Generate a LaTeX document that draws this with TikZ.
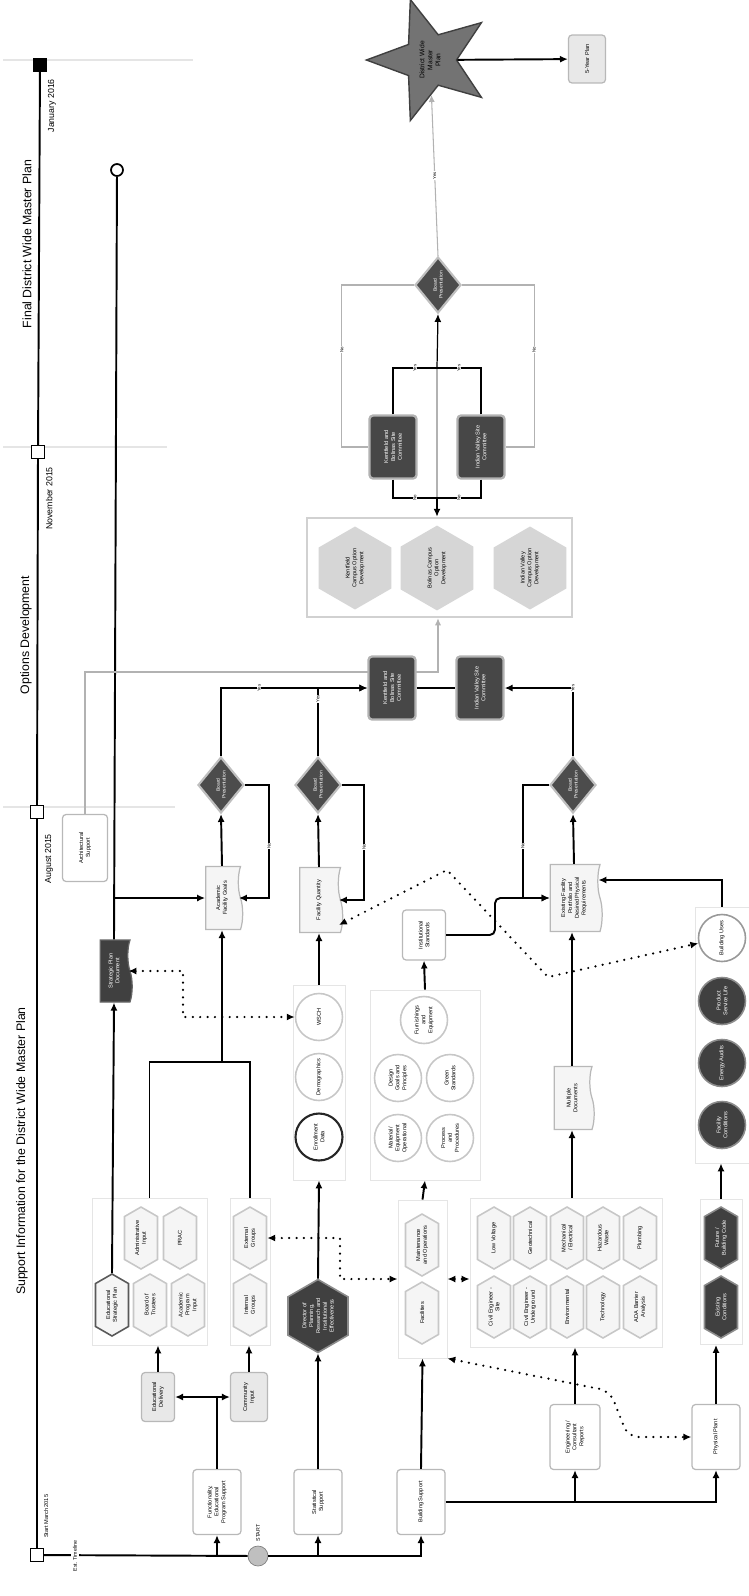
\documentclass[tikz,border=0pt]{standalone}
\usepackage{fontspec}
\setmainfont{Liberation Sans}
\usetikzlibrary{arrows.meta, shapes.geometric, shapes.symbols}

\begin{document}
\begin{tikzpicture}[
    x=0.02cm, y=-0.02cm,
    every node/.style={rotate=90, align=center, inner sep=0.5pt, font=\fontsize{3.2}{3.9}\selectfont},
    box/.style={draw=black!28, line width=0.7pt, rounded corners=2pt, fill=white, minimum width=1.3cm, minimum height=0.96cm},
    gbox/.style={box, fill=black!9},
    dbox/.style={box, fill=black!72, draw=black!30, line width=1.3pt, text=white, minimum width=1.26cm, minimum height=0.94cm},
    hexa/.style={signal, signal to=east and west, signal pointer angle=120, draw=black!22, line width=0.9pt, fill=black!4, minimum width=1.24cm, minimum height=0.66cm},
    dhexa/.style={hexa, fill=black!75, draw=black!45, text=white},
    hexo/.style={hexa, fill=black!16, draw=none, minimum width=1.6cm, minimum height=1.46cm},
    bubble/.style={circle, draw=black!22, line width=0.9pt, fill=white, minimum size=0.94cm, inner sep=0pt},
    dbubble/.style={bubble, fill=black!75, draw=black!45, text=white},
    doc/.style={tape, tape bend top=none, tape bend height=2.5pt, draw=black!28, line width=0.7pt, fill=black!4},
    decision/.style={diamond, fill=black!70, draw=black!25, line width=1.2pt, text=white, minimum width=1.12cm, minimum height=0.92cm, inner sep=0pt, font=\fontsize{2.8}{3.3}\selectfont},
    grp/.style={draw=black!10, line width=0.5pt},
    ms/.style={draw, line width=0.8pt, fill=white, minimum size=0.26cm, inner sep=0pt},
    title/.style={font=\fontsize{7}{8}\selectfont},
    date/.style={font=\fontsize{5}{6}\selectfont, inner sep=1pt},
    lab/.style={fill=white, inner sep=0.3pt, font=\fontsize{2.5}{3}\selectfont},
    link/.style={line width=1.1pt},
    arrow/.style={link, -{Latex[length=4.5pt, width=4pt]}},
    gline/.style={draw=black!30, line width=0.6pt},
    garrow/.style={gline, -{Latex[length=4pt, width=3.5pt]}},
    dots/.style={line width=1.4pt, line cap=round, dash pattern=on 0pt off 4.2pt, {Latex[length=4.5pt, width=4pt]}-{Latex[length=4.5pt, width=4pt]}}
]
\useasboundingbox (0,0) rectangle (749,1596);

% timeline
\draw[black!10, line width=0.6pt] (3,60) -- (193,60);
\draw[black!10, line width=0.6pt] (3,447) -- (167,447);
\draw[black!10, line width=0.6pt] (3,807) -- (175,807);
\node[ms] (tstart) at (37,1555) {};
\node[ms] (taug) at (37,812) {};
\node[ms] (tnov) at (38,452) {};
\node[ms, fill=black] (tjan) at (40,65) {};
\draw[link] (tstart) -- (taug) -- (tnov) -- (tjan);
\node[date, anchor=north west, font=\fontsize{3.2}{4}\selectfont] at (42,1540) {Start March 2015};
\node[date, anchor=north east] at (43,832) {August 2015};
\node[date, anchor=north east] at (44,465) {November 2015};
\node[date, anchor=north east] at (46,77) {January 2016};
\node[title] at (22,1151) {Support Information for the District Wide Master Plan};
\node[title] at (26,635) {Options Development};
\node[title] at (27,244) {Final District Wide Master Plan};

\node[circle, draw=black!50, fill=black!25, minimum size=0.4cm, inner sep=0pt] (start) at (258,1556) {};
\node[font=\fontsize{3}{3.5}\selectfont] at (258,1533) {START};
\draw[link] (tstart) -- (start);
\node[fill=white, font=\fontsize{3}{3.5}\selectfont, inner sep=1pt] at (75,1556) {Est. Timeline};

\node[box] (func) at (217,1502) {Functionality,\\ Educational\\ Program Support};
\node[box] (stat) at (318,1502) {Statistical\\ Support};
\node[box] (bsup) at (421,1502) {Building Support};
\node[box, minimum height=1.0cm] (eng) at (575,1437) {Engineering /\\ Consultant\\ Reports};
\node[box] (pplant) at (716,1437) {Physical Plant};
\draw[arrow] (tstart -| func) -- (func.west);
\draw[arrow] (start) -| (bsup.west);
\draw[arrow] (start -| stat) -- (stat.west);
\draw[arrow] (bsup.south) -| (pplant.west);
\draw[arrow] (bsup.south -| eng) -- (eng.west);

% educational stream
\node[gbox, minimum width=0.98cm, minimum height=0.66cm] (edu) at (158,1397) {Educational\\ Delivery};
\node[gbox, minimum width=0.98cm, minimum height=0.74cm] (comm) at (249,1397) {Community\\ Input};
\draw[arrow] (func.east) -- (func.east |- edu) -- (edu.south);
\draw[arrow] (func.east |- comm) -- (comm.north);

\node[grp, minimum width=2.94cm, minimum height=2.3cm] (g1) at (149.5,1271.5) {};
\node[grp, minimum width=2.94cm, minimum height=0.8cm] (g2) at (250,1271.5) {};
\node[hexa, draw=black!65] (esp) at (112,1305) {Educational\\ Strategic Plan};
\node[hexa] (bot) at (150,1305) {Board of\\ Trustees};
\node[hexa] (api) at (188,1305) {Academic\\ Program\\ Input};
\node[hexa] (adm) at (141,1238) {Administrative\\ Input};
\node[hexa] (prac) at (180,1238) {PRAC};
\node[hexa] (intg) at (250,1305) {Internal\\ Groups};
\node[hexa] (extg) at (250,1238) {External\\ Groups};
\draw[arrow] (edu.east) -- (edu.east |- g1.west);
\draw[arrow] (comm.east) -- (comm.east |- g2.west);

\node[doc, fill=black!75, draw=black!60, text=white, minimum width=1.24cm, minimum height=0.64cm] (sdoc) at (114,971) {Strategic Plan\\ Document};
\node[circle, draw, line width=1pt, fill=white, minimum size=0.24cm, inner sep=0pt] (endc) at (117,170) {};
\draw[arrow] (esp.east) -- (sdoc.west);
\draw[link] (sdoc.east) -- (endc);

\node[doc, minimum width=1.26cm, minimum height=0.74cm] (acad) at (222,898) {Academic\\ Facility Goals};
\draw[arrow] (sdoc.east |- acad) -- (acad.north);
\coordinate (gj) at (222,1062);
\draw[link] (g1.east) |- (gj) -| (g2.east);
\draw[arrow] (gj) -- (acad.west);

\node[box, minimum width=1.34cm, minimum height=0.9cm] (arch) at (85,848) {Architectural\\ Support};

% statistical stream
\node[dhexa, minimum width=1.46cm, minimum height=1.2cm] (dir) at (318,1316) {Director of\\ Planning,\\ Research and\\ Institutional\\ Effectiveness};
\draw[arrow] (stat.east) -- (dir.west);
\node[grp, minimum width=3.9cm, minimum height=1.04cm] (cg) at (319,1082.5) {};
\node[bubble, draw=black!85, line width=1.2pt] (enr) at (319,1137) {Enrollment\\ Data};
\node[bubble] (dem) at (319,1077) {Demographics};
\node[bubble] (wsch) at (319,1017) {WSCH};
\draw[arrow] (dir.east) -- (cg.west);
\node[doc, minimum width=1.3cm, minimum height=0.86cm] (fqty) at (319,900) {Facility Quantity};
\draw[arrow] (cg.east) -- (fqty.west);
\coordinate (sj) at (183,1017);
\draw[dots] (sdoc.south) -| (sj) -- (wsch.north);

% building stream
\node[grp, minimum width=3.16cm, minimum height=0.98cm] (fg) at (422.5,1279) {};
\node[hexa] (fac) at (422,1313) {Facilities};
\node[hexa] (mo) at (422,1245) {Maintenance\\ and Operations};
\draw[arrow] (bsup.east) -- (fg.west);
\coordinate (dj) at (340,1279);
\draw[dots] (extg.south) -| (dj) -- (fg.north);

\node[grp, minimum width=3.8cm, minimum height=2.2cm] (mg) at (425,1085) {};
\node[bubble] (mat) at (398,1138) {Material/\\ Equipment\\ Operational};
\node[bubble] (proc) at (450,1138) {Process\\ and\\ Procedures};
\node[bubble] (des) at (398,1078) {Design\\ Goals and\\ Principles};
\node[bubble] (green) at (450,1078) {Green\\ Standards};
\node[bubble] (furn) at (424,1020) {Furnishings\\ and\\ Equipment};
\draw[arrow] (fg.east) -- (mg.west);
\node[box, minimum width=1.0cm, minimum height=0.86cm] (inst) at (424,935) {Institutional\\ Standards};
\draw[arrow] (mg.east) -- (inst.west);

\node[grp, minimum width=2.98cm, minimum height=3.84cm] (cgrp) at (566,1272.5) {};
\node[hexa] (lv) at (494,1238) {Low Voltage};
\node[hexa] (geo) at (530,1238) {Geotechnical};
\node[hexa] (mech) at (567,1238) {Mechanical\\ / Electrical};
\node[hexa] (haz) at (603,1238) {Hazardous\\ Waste};
\node[hexa] (plumb) at (640,1238) {Plumbing};
\node[hexa] (ces) at (494,1307) {Civil Engineer -\\ Site};
\node[hexa] (ceu) at (530,1307) {Civil Engineer -\\ Underground};
\node[hexa] (env) at (567,1307) {Environmental};
\node[hexa] (tech) at (603,1307) {Technology};
\node[hexa] (ada) at (640,1307) {ADA Barrier\\ Analysis};
\draw[dots] (fg.south) -- (fg.south -| cgrp.north);
\draw[arrow] (eng.east) -- (eng.east |- cgrp.west);
\node[doc, minimum width=1.26cm, minimum height=0.8cm] (mdoc) at (572,1098) {Multiple\\ Documents};
\draw[arrow] (mdoc |- cgrp.east) -- (mdoc.west);
\node[doc, minimum width=1.34cm, minimum height=1.04cm] (exist) at (574,898) {Existing Facility\\ Portfolio and\\ Desired Physical\\ Requirements};
\draw[arrow] (mdoc.east) -- (mdoc.east |- exist.west);
\coordinate (ej) at (495,898);
\draw[arrow, rounded corners=3pt] (inst.south) -| (ej) -- (exist.north);

\node[grp, minimum width=2.9cm, minimum height=0.84cm] (dhg) at (721,1272) {};
\node[dhexa] (exc) at (721,1307) {Existing\\ Conditions};
\node[dhexa] (fbc) at (721,1238) {Future /\\ Building Code};
\draw[arrow] (pplant.east) -- (pplant.east |- dhg.west);
\node[grp, minimum width=5.12cm, minimum height=1.08cm] (dcg) at (722,1035) {};
\node[dbubble] (fcon) at (722,1125) {Facility\\ Conditions};
\node[dbubble] (ea) at (722,1063) {Energy Audits};
\node[dbubble] (psl) at (722,1001) {Product\\ Service Life};
\node[bubble, draw=black!40] (bu) at (722,938) {Building Uses};
\draw[arrow] (dhg.east) -- (dhg.east |- dcg.west);
\draw[arrow] (dcg.east) |- ([yshift=0.36cm]exist.south);
\draw[dots] ([yshift=-0.5cm]fqty.south) -- (447,870) -- (548,977) -- (bu);
\draw[dots, rounded corners=6pt] (fg.south west) -- (610,1391) -- (628,1437) -- (pplant.north);

% board presentations
\node[decision] (d1) at (221,785) {Board\\ Presentation};
\node[decision] (d2) at (318,785) {Board\\ Presentation};
\node[decision] (d3) at (573,785) {Board\\ Presentation};
\draw[arrow] (acad.east) -- (d1.west);
\draw[arrow] (fqty.east) -- (d2.west);
\draw[arrow] (exist.east) -- (d3.west);
\draw[arrow] (d1.south) -- ++(24,0) |- node[lab, pos=0.27]{No} (acad.south);
\draw[arrow] (d2.south) -- ++(22,0) |- node[lab, pos=0.27]{No} (fqty.south);
\draw[arrow] (d3.north) -- ++(-26,0) |- node[lab, pos=0.27]{No} (exist.north);

% options development
\node[draw=black!18, line width=1.4pt, fill=white, minimum width=1.98cm, minimum height=5.3cm] (grp) at (439.5,567.5) {};
\node[hexo] (ko) at (355,568) {Kentfield\\ Campus Option\\ Development};
\node[hexo] (bo) at (437,568) {Bolinas Campus\\ Option\\ Development};
\node[hexo] (ivo) at (530,568) {Indian Valley\\ Campus Option\\ Development};
\coordinate (aj) at (438,672);
\draw[garrow] (arch.east) |- (aj) -- (aj |- grp.west);

\node[dbox] (k2) at (392,688) {Kentfield and\\ Bolinas Site\\ Committee};
\node[dbox] (iv2) at (480,688) {Indian Valley Site\\ Committee};
\draw[link] (k2) -- (iv2);
\draw[arrow] (d1.east) |- node[lab, pos=0.63]{Yes} (k2.north);
\draw[arrow] (d2.east) |- node[lab, pos=0.42]{Yes} (k2.north);
\draw[arrow] (d3.east) |- node[lab, pos=0.5]{Yes} (iv2.south);

\node[dbox] (k1) at (393,447) {Kentfield and\\ Bolinas Site\\ Committee};
\node[dbox] (iv1) at (481,447) {Indian Valley Site\\ Committee};
\node[decision] (d4) at (438,285) {Board\\ Presentation};
\coordinate (nj) at (437,498);
\coordinate (yj) at (437,368);
\draw[gline] (nj) -- (yj);
\draw[link] (k1.west) |- node[lab, pos=0.75]{No} (nj);
\draw[link] (iv1.west) |- node[lab, pos=0.75]{No} (nj);
\draw[arrow] (nj) -- (nj |- grp.east);
\draw[link] (k1.east) |- node[lab, pos=0.75]{Yes} (yj);
\draw[link] (iv1.east) |- node[lab, pos=0.75]{Yes} (yj);
\draw[arrow, line width=0.7pt] (yj) -- (d4.west);
\draw[gline] (d4.north) -- ++(-72,0) |- node[lab, pos=0.2]{No} (k1.north);
\draw[gline] (d4.south) -- ++(72,0) |- node[lab, pos=0.2]{No} (iv1.south);

% final plan
\node[star, star points=5, star point ratio=2.4, minimum size=2.5cm, inner sep=0pt, fill=black!55, draw=black!75, line width=0.8pt, font=\fontsize{3.8}{4.6}\selectfont] (star) at (430,60) {District Wide\\ Master\\ Plan};
\draw[garrow] (d4.east) -- node[lab]{Yes} (star);
\node[gbox, minimum width=0.96cm, minimum height=0.74cm] (fyp) at (587,59) {5-Year Plan};
\draw[arrow] (star) -- (fyp);
\end{tikzpicture}
\end{document}
